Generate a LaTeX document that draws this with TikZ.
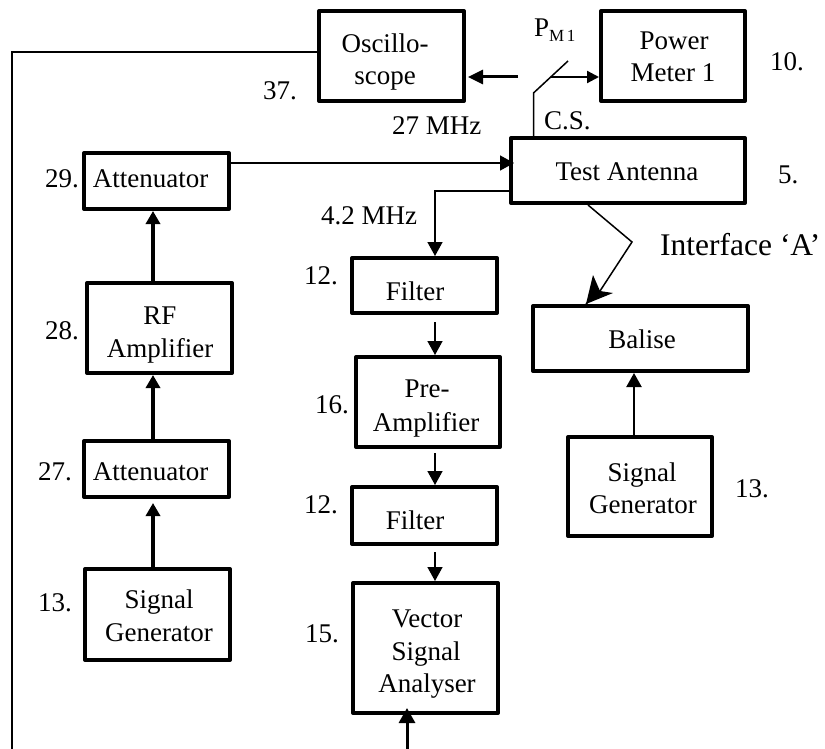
\documentclass[tikz,border=0pt]{standalone}
\usepackage{fontspec}
\setmainfont{Liberation Serif}
\usetikzlibrary{arrows.meta}
\tikzset{
  box/.style={draw=black,line width=4pt,line join=round,fill=white,inner sep=0pt},
  lab/.style={inner sep=0pt,anchor=base west,font=\fontsize{27}{32}\selectfont},
  wire/.style={draw=black,line width=1.5pt},
  heavy/.style={draw=black,line width=3.5pt,-{Triangle[length=13pt,width=14pt]}},
  medium/.style={draw=black,line width=2.2pt,-{Triangle[length=14pt,width=15pt]}},
  thinarrow/.style={draw=black,line width=1.5pt,-{Triangle[length=14pt,width=15pt]}}
}
\newcommand\tln[3]{\hbox to 0pt{\kern\dimexpr#1pt-\cxx pt\relax\hbox to 0pt{\hss\smash{\lower\dimexpr#2pt-\cyy pt\relax\hbox{#3}}\hss}\hss}}
\newcommand\blk[6]{%
  \pgfmathsetmacro{\cxx}{(#2+#4)/2}%
  \pgfmathsetmacro{\cyy}{(#3+#5)/2}%
  \pgfmathsetmacro{\bww}{#4-#2}%
  \pgfmathsetmacro{\bhh}{#5-#3}%
  \node[box,font=\fontsize{27}{32}\selectfont,minimum width=\bww pt,minimum height=\bhh pt] (#1) at (\cxx,\cyy) {#6};}
\begin{document}
\begin{tikzpicture}[x=1pt,y=-1pt]
\useasboundingbox (0,0) rectangle (825,749);
\fill[white] (0,0) rectangle (825,749);
% blocks
\blk{osc}{319}{11}{464}{101}{\tln{385}{53}{Oscillo-}\tln{385}{85}{scope}}
\blk{pm}{601}{11}{745}{101}{\tln{674}{50}{Power}\tln{673}{82}{Meter 1}}
\blk{ta}{511}{138}{745}{203}{\tln{627}{181}{Test Antenna}}
\blk{atb}{84}{153}{229}{209}{\tln{150.5}{188}{Attenuator}}
\blk{rf}{87}{283}{232}{373}{\tln{160}{324}{RF}\tln{160}{357}{Amplifier}}
\blk{ata}{84}{441}{229}{497}{\tln{150.5}{480}{Attenuator}}
\blk{sgl}{85}{569}{230}{660}{\tln{159}{608}{Signal}\tln{159}{641}{Generator}}
\blk{fa}{352}{258}{497}{313}{\tln{415}{300}{Filter}}
\blk{pre}{356}{357}{500}{447}{\tln{427}{397}{Pre-}\tln{426}{431}{Amplifier}}
\blk{fb}{352}{487}{497}{544}{\tln{415}{529}{Filter}}
\blk{vsa}{353}{583}{498}{713}{\tln{427}{627}{Vector}\tln{426}{660}{Signal}\tln{427}{692}{Analyser}}
\blk{bal}{533}{306}{748}{371}{\tln{642}{348}{Balise}}
\blk{sgr}{568}{437}{712}{536}{\tln{642}{481}{Signal}\tln{643}{513}{Generator}}
% free labels
\node[lab] (n37) at (263,100) {37.};
\node[lab] (n29) at (45,188) {29.};
\node[lab] (n28) at (45,339) {28.};
\node[lab] (n27) at (38,480) {27.};
\node[lab] (n13a) at (38,611) {13.};
\node[lab] (n12a) at (304,284) {12.};
\node[lab] (n16) at (315,413) {16.};
\node[lab] (n12b) at (304,513) {12.};
\node[lab] (n15) at (305,642) {15.};
\node[lab] (n10) at (770,71) {10.};
\node[lab] (n5) at (778,183) {5.};
\node[lab] (n13b) at (735,497) {13.};
\node[lab] (f27) at (392,135) {27 MHz};
\node[lab] (f42) at (321,224) {4.2 MHz};
\node[lab] (cs) at (544,130) {C.S.};
\node[lab] (pm1) at (534,37) {P\raisebox{-5pt}{\fontsize{17}{17}\selectfont M\kern2.5pt 1}};
\node[lab,font=\fontsize{31.5}{36}\selectfont] (ifa) at (660,255) {Interface ‘A’};
% helper coordinates
\coordinate (ll1) at (12,52);
\coordinate (ll2) at (12,749);
\coordinate (swm) at (518,77);
\coordinate (swb) at (551,77);
\coordinate (sw0) at (533.5,93);
\coordinate (sw1) at (568,61);
\coordinate (xl) at (153,0);
\coordinate (xm) at (435,0);
\coordinate (xr) at (634,0);
\coordinate (ya) at (0,163);
\coordinate (yb) at (0,191);
\coordinate (xi0) at (588,0);
\coordinate (ie) at (632,242);
\coordinate (xi1) at (586,0);
\coordinate (notch) at (600,291);
\coordinate (barba) at (593,275);
\coordinate (barbb) at (613,293);
\coordinate (fa0) at (435,322);
\coordinate (pre0) at (435,453);
\coordinate (fb0) at (435,552);
\coordinate (bot0) at (407,749);
\coordinate (bot1) at (407,708);
% connectors
\draw[wire] (osc.west |- ll1) -- (ll1) -- (ll2);
\draw[heavy,line width=3pt,-{Triangle[length=15pt,width=14pt]},shorten >=2pt] (swm) -- (osc.east |- swm);
\draw[medium,-{Triangle[length=12pt,width=12pt]}] (swb) -- (pm.west |- swb);
\draw[wire] (ta.north -| sw0) -- (sw0) -- (sw1);
\draw[thinarrow,shorten >=-5pt] (atb.east |- ya) -- (ta.west |- ya);
\draw[thinarrow] (ta.west |- yb) -- (xm |- yb) -- (fa.north -| xm);
\draw[wire] (ta.south -| xi0) -- (ie) -- (notch) -- (bal.north -| xi1);
\fill[black] (bal.north -| xi1) -- (barba) -- (notch) -- (barbb) -- cycle;
\draw[heavy] (rf.north -| xl) -- (atb.south -| xl);
\draw[heavy] (ata.north -| xl) -- (rf.south -| xl);
\draw[heavy,shorten >=4pt] (sgl.north -| xl) -- (ata.south -| xl);
\draw[thinarrow] (fa0) -- (pre.north -| fa0);
\draw[thinarrow] (pre0) -- (fb.north -| pre0);
\draw[thinarrow] (fb0) -- (vsa.north -| fb0);
\draw[heavy,line width=3pt,-{Triangle[length=15pt,width=16pt]}] (bot0) -- (bot1);
\draw[medium,-{Triangle[length=14pt,width=15pt]}] (sgr.north -| xr) -- (bal.south -| xr);
\end{tikzpicture}
\end{document}
